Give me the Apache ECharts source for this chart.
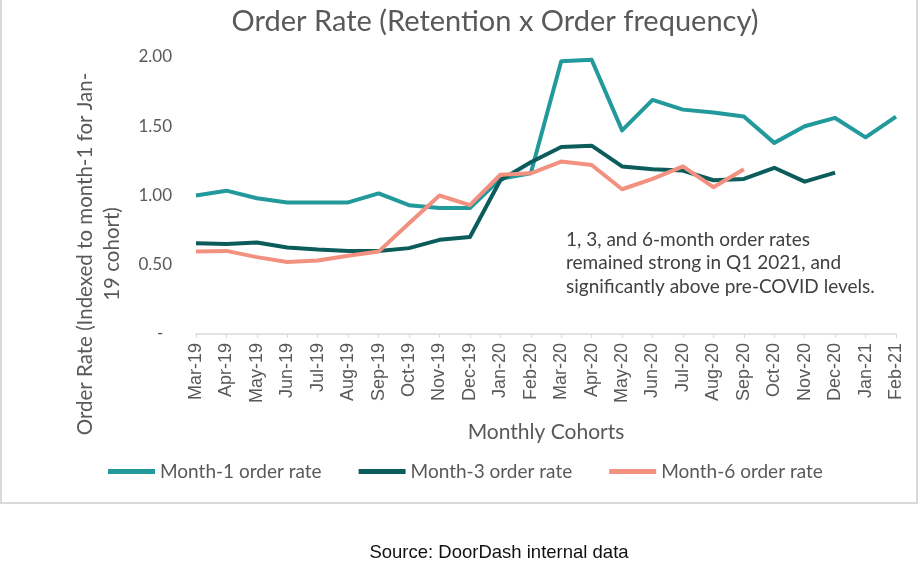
<!DOCTYPE html>
<html>
<head>
<meta charset="utf-8">
<script src="https://cdn.jsdelivr.net/npm/echarts@6/dist/echarts.min.js"></script>
<style>html,body{margin:0;padding:0;background:#fff;}#c{width:922px;height:576px;}</style>
</head>
<body>
<div id="c"></div>
<script>
const categories = ['Mar-19','Apr-19','May-19','Jun-19','Jul-19','Aug-19','Sep-19','Oct-19','Nov-19','Dec-19','Jan-20','Feb-20','Mar-20','Apr-20','May-20','Jun-20','Jul-20','Aug-20','Sep-20','Oct-20','Nov-20','Dec-20','Jan-21','Feb-21'];
const month1 = [1.00,1.035,0.98,0.95,0.95,0.95,1.015,0.93,0.91,0.91,1.12,1.16,1.97,1.98,1.47,1.69,1.62,1.60,1.57,1.38,1.50,1.56,1.42,1.57];
const month3 = [0.655,0.65,0.66,0.625,0.61,0.60,0.60,0.62,0.68,0.70,1.11,1.24,1.35,1.36,1.21,1.19,1.18,1.11,1.12,1.20,1.10,1.165,null,null];
const month6 = [0.595,0.60,0.555,0.52,0.53,0.565,0.595,0.80,1.00,0.93,1.15,1.16,1.245,1.22,1.045,1.12,1.21,1.06,1.19,null,null,null,null,null];
const seriesNames = ['Month-1 order rate','Month-3 order rate','Month-6 order rate'];
const yTicks = [0, 0.5, 1, 1.5, 2];

const FONT = 'Lato';
const GRAY = '#595959';
const colors = ['#22999a','#0c5c5c','#f2917f'];

const chart = echarts.init(document.getElementById('c'));
chart.setOption({
  animation: false,
  title: {
    text: 'Order Rate (Retention x Order frequency)',
    left: 490, top: 2, textAlign: 'center',
    textStyle: {fontFamily: FONT, fontSize: 29, fontWeight: 'normal', color: GRAY}
  },
  grid: {left: 196, right: 26, top: 57, bottom: 242, containLabel: false},
  legend: {
    data: seriesNames,
    left: 103, top: 457,
    itemWidth: 47, itemHeight: 5, itemGap: 37,
    icon: 'rect',
    textStyle: {fontFamily: FONT, fontSize: 19, color: GRAY}
  },
  xAxis: {
    type: 'category', data: categories, boundaryGap: false,
    name: 'Monthly Cohorts', nameLocation: 'middle', nameGap: 88,
    nameTextStyle: {fontFamily: FONT, fontSize: 21, color: GRAY},
    axisLine: {lineStyle: {color: '#d9d9d9', width: 1.5}},
    axisTick: {show: true, length: 4, lineStyle: {color: '#d9d9d9'}},
    axisLabel: {rotate: 90, fontFamily: 'Liberation Sans', fontSize: 18, color: GRAY, margin: 9, interval: 0}
  },
  yAxis: {
    type: 'value', min: yTicks[0], max: yTicks[yTicks.length-1], interval: 0.5,
    axisLine: {show: false}, axisTick: {show: false}, splitLine: {show: false},
    axisLabel: {fontFamily: FONT, fontSize: 17, color: GRAY, margin: 24,
      formatter: v => v === 0 ? '-  ' : v.toFixed(2)}
  },
  series: seriesNames.map((n, i) => ({
    name: n, type: 'line', data: [month1, month3, month6][i],
    showSymbol: false, symbol: 'none',
    lineStyle: {width: 4, color: colors[i], join: 'round'},
    itemStyle: {color: colors[i]},
    connectNulls: false
  })),
  graphic: [
    {type: 'rect', shape: {x: 1, y: -5, width: 916, height: 508},
      style: {fill: 'none', stroke: '#d9d9d9', lineWidth: 2}, silent: true},
    {type: 'text', x: 98.5, y: 254, rotation: Math.PI/2,
      style: {text: 'Order Rate (Indexed to month-1 for Jan-\n19 cohort)', font: '20.5px ' + FONT,
        fill: GRAY, align: 'center', verticalAlign: 'middle', lineHeight: 27}},
    {type: 'text', x: 566, y: 228,
      style: {text: '1, 3, and 6-month order rates\nremained strong in Q1 2021, and\nsignificantly above pre-COVID levels.',
        font: '19px ' + FONT, fill: '#404040', lineHeight: 23.5}},
    {type: 'text', x: 499, y: 553,
      style: {text: 'Source: DoorDash internal data', font: '18.5px "Liberation Sans"', fill: '#111',
        align: 'center', verticalAlign: 'middle'}}
  ]
});
</script>
</body>
</html>
